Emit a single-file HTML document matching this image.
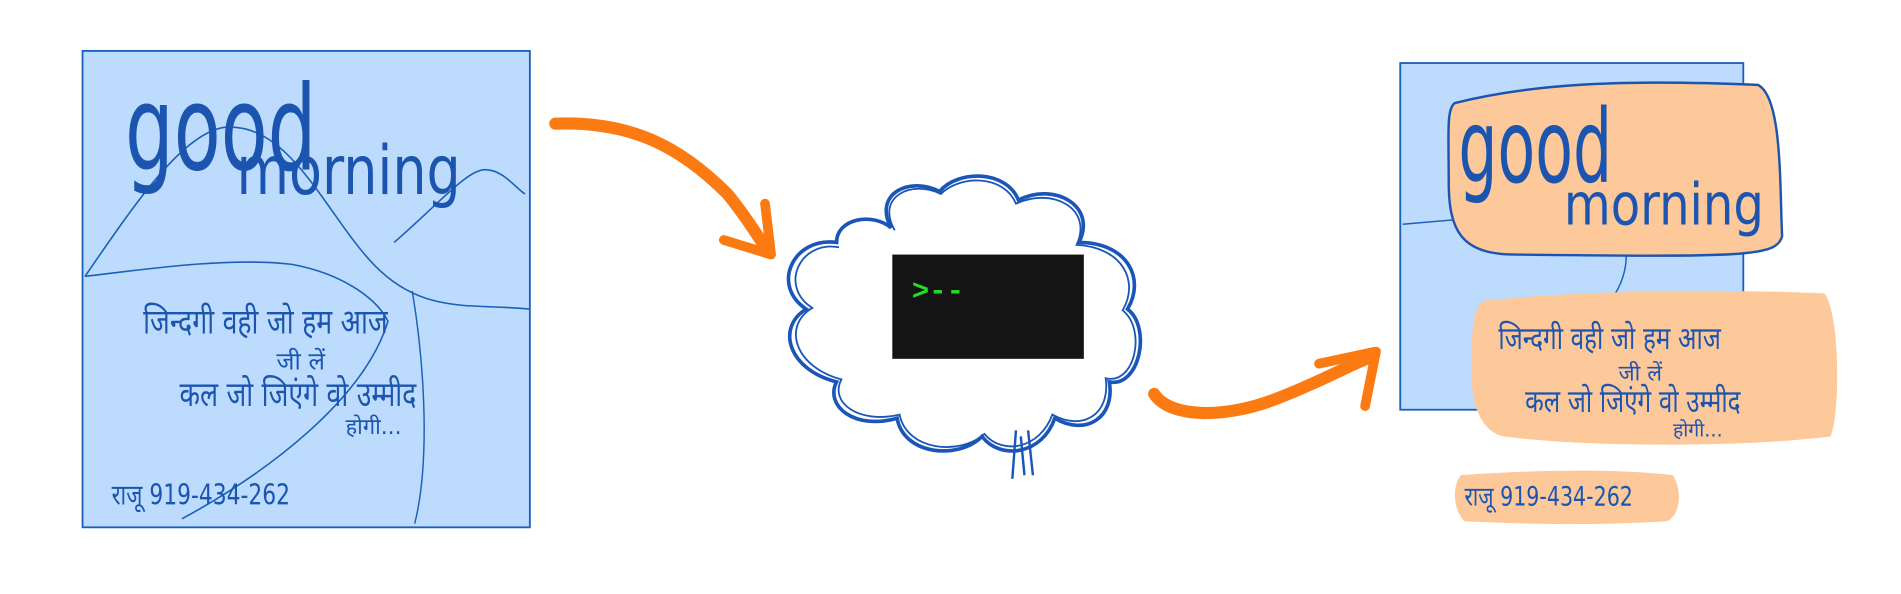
<!DOCTYPE html>
<html><head><meta charset="utf-8"><style>
html,body{margin:0;padding:0;background:#fff;width:1901px;height:594px;overflow:hidden}
svg{display:block}
.hand{font-family:"DejaVu Sans","Liberation Sans",sans-serif;fill:#1b55b0}
</style></head><body>
<svg width="1901" height="594" viewBox="0 0 1568 490">
<g>
<rect x="68" y="42" width="369" height="393" fill="#bddcfd" stroke="#1b5fb8" stroke-width="1.5"/>
<path d="M70,228 C110,170 150,110 185,105 C240,100 270,180 310,220 C350,260 390,250 437,255" fill="none" stroke="#1b5fb8" stroke-width="1.3"/>
<path d="M325,200 C360,170 385,140 400,140 C415,140 425,155 433,160" fill="none" stroke="#1b5fb8" stroke-width="1.3"/>
<path d="M70,228 C120,222 190,212 240,218 C280,225 310,245 320,265 C300,330 220,390 150,428" fill="none" stroke="#1b5fb8" stroke-width="1.3"/>
<path d="M340,240 C350,300 355,380 342,432" fill="none" stroke="#1b5fb8" stroke-width="1.2"/>
<text class="hand" transform="translate(103,140) scale(0.88,1.35)" font-size="72">good</text>
<text class="hand" transform="translate(195,160) scale(1,1.4)" font-size="40" textLength="185" lengthAdjust="spacingAndGlyphs">morning</text>
<text class="hand" transform="translate(118,275) scale(1,1.3)" font-size="22">जिन्दगी वही जो हम आज</text>
<text class="hand" x="228" y="305" font-size="20">जी लें</text>
<text class="hand" transform="translate(148,335) scale(1,1.3)" font-size="22">कल जो जिएंगे वो उम्मीद</text>
<text class="hand" x="285" y="358" font-size="18">होगी...</text>
<text class="hand" transform="translate(92,416) scale(1,1.3)" font-size="18">राजू 919-434-262</text>
</g>
<path d="M458,102 C520,100 560,120 600,160 C615,178 625,195 632,205" fill="none" stroke="#fb7a12" stroke-width="10" stroke-linecap="round"/>
<path d="M597,198 L636,210 L631,168" fill="none" stroke="#fb7a12" stroke-width="8" stroke-linecap="round" stroke-linejoin="round"/>
<g>
<path d="M735,188 C720,160 750,145 775,158 C790,140 830,140 840,165 C870,150 905,170 890,200 C930,200 945,230 930,255 C950,270 940,320 915,315 C920,345 895,360 870,345 C860,375 825,380 810,360 C790,380 745,375 740,345 C705,355 680,335 690,315 C650,305 640,270 665,255 C635,235 655,195 690,200 C690,180 720,175 735,188 Z" fill="#fff" stroke="#1a56b8" stroke-width="3"/>
<path d="M738,190 C722,162 752,148 776,160 C792,144 828,144 838,168 C868,154 902,172 888,202 C926,204 940,232 926,256 C946,272 936,318 912,312 C916,342 893,356 868,342 C858,370 827,376 812,358 C792,376 748,372 742,342 C708,350 684,332 694,313 C654,302 646,268 670,254 C642,236 660,198 692,204" fill="none" stroke="#1a56b8" stroke-width="1.5"/>
<path d="M838,355 L835,395 M848,355 L852,392 M842,360 L845,392" stroke="#1a56b8" stroke-width="2"/>
<rect x="736" y="210" width="158" height="86" fill="#141414"/>
<text x="752" y="247" font-family="Liberation Mono,monospace" font-size="24" font-weight="bold" fill="#22dd22">&gt;--</text>
</g>
<path d="M952,325 C965,345 1010,345 1050,330 C1090,315 1115,300 1130,295" fill="none" stroke="#fb7a12" stroke-width="10" stroke-linecap="round"/>
<path d="M1088,300 L1135,290 L1126,335" fill="none" stroke="#fb7a12" stroke-width="8" stroke-linecap="round" stroke-linejoin="round"/>
<g>
<rect x="1155" y="52" width="283" height="286" fill="#bddcfd" stroke="#1b5fb8" stroke-width="1.5"/>
<path d="M1157,185 L1215,180 M1340,200 C1345,220 1335,240 1330,245" fill="none" stroke="#1b5fb8" stroke-width="1.2"/>
<path d="M1200,85 C1260,70 1330,65 1450,70 C1470,80 1468,150 1470,195 C1465,212 1440,212 1250,210 C1205,210 1195,190 1195,150 C1195,110 1193,90 1200,85 Z" fill="#fdc89a" stroke="#1b55b0" stroke-width="2"/>
<text class="hand" transform="translate(1203,150) scale(0.82,1.35)" font-size="62">good</text>
<text class="hand" transform="translate(1290,185) scale(1,1.4)" font-size="34" textLength="165" lengthAdjust="spacingAndGlyphs">morning</text>
<path d="M1225,248 C1300,240 1420,238 1505,242 C1518,260 1518,340 1510,360 C1450,368 1320,370 1240,360 C1220,355 1212,330 1214,300 C1214,270 1215,252 1225,248 Z" fill="#fdc89a"/>
<text class="hand" transform="translate(1236,288) scale(1,1.3)" font-size="20">जिन्दगी वही जो हम आज</text>
<text class="hand" x="1335" y="314" font-size="18">जी लें</text>
<text class="hand" transform="translate(1258,340) scale(1,1.3)" font-size="20">कल जो जिएंगे वो उम्मीद</text>
<text class="hand" x="1380" y="360" font-size="16">होगी...</text>
<path d="M1205,392 C1260,388 1330,386 1380,392 C1388,405 1386,425 1375,430 C1310,434 1250,432 1208,430 C1198,420 1198,400 1205,392 Z" fill="#fdc89a"/>
<text class="hand" transform="translate(1208,417) scale(1,1.3)" font-size="17">राजू 919-434-262</text>
</g>
</svg>
</body></html>
